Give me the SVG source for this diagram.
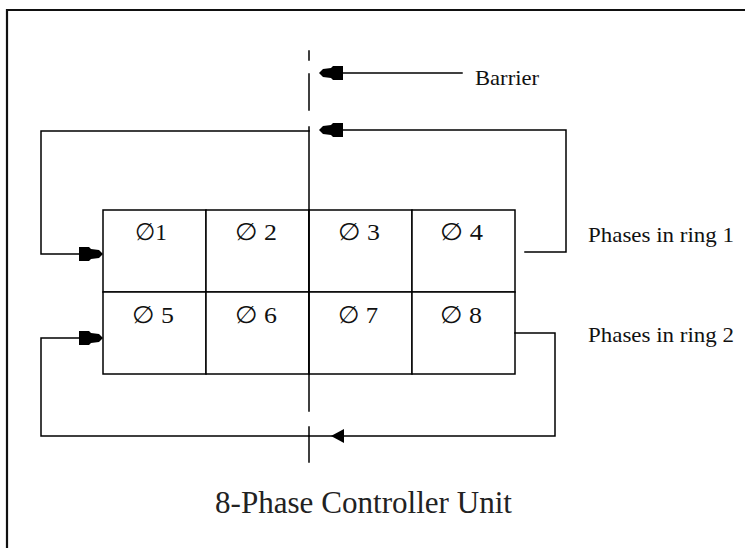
<svg xmlns="http://www.w3.org/2000/svg" width="745" height="548" viewBox="0 0 745 548">
<style>
.ln{fill:none;stroke:#000;stroke-width:1.5;stroke-linecap:square}
.cell{fill:#fff;stroke:#000;stroke-width:1.5}
.ah{fill:#000;stroke:none}
.ph{font-family:"Liberation Serif","DejaVu Serif",serif;font-size:24px;fill:#111}
.lbl{font-family:"Liberation Serif","DejaVu Serif",serif;font-size:22px;fill:#111}
.ttl{font-family:"Liberation Serif","DejaVu Serif",serif;font-size:31px;fill:#222}
</style>
<defs>
<path id="arr" d="M0,0 L4,-4 L12,-5 L14,-7 L24,-7 L24,7 L14,7 L12,5 L4,4 Z"/>
<path id="tri" d="M0,0 L13,-7 L13,7 Z"/>
</defs>
<rect x="0" y="0" width="745" height="548" fill="#fff"/>
<g id="frame">
<path d="M7,548 L7,10 L745,10" fill="none" stroke="#111" stroke-width="2.2"/>
</g>
<g id="cells">
<g id="p1"><rect class="cell" x="103" y="210" width="103" height="82"/><text class="ph" x="135" y="240" textLength="32" lengthAdjust="spacingAndGlyphs">∅1</text></g>
<g id="p2"><rect class="cell" x="206" y="210" width="103" height="82"/><text class="ph" x="235" y="240" textLength="42" lengthAdjust="spacingAndGlyphs">∅ 2</text></g>
<g id="p3"><rect class="cell" x="309" y="210" width="103" height="82"/><text class="ph" x="338" y="240" textLength="42" lengthAdjust="spacingAndGlyphs">∅ 3</text></g>
<g id="p4"><rect class="cell" x="412" y="210" width="103" height="82"/><text class="ph" x="440" y="240" textLength="43" lengthAdjust="spacingAndGlyphs">∅ 4</text></g>
<g id="p5"><rect class="cell" x="103" y="292" width="103" height="82"/><text class="ph" x="132" y="323" textLength="42" lengthAdjust="spacingAndGlyphs">∅ 5</text></g>
<g id="p6"><rect class="cell" x="206" y="292" width="103" height="82"/><text class="ph" x="235" y="323" textLength="42" lengthAdjust="spacingAndGlyphs">∅ 6</text></g>
<g id="p7"><rect class="cell" x="309" y="292" width="103" height="82"/><text class="ph" x="338" y="323" textLength="40" lengthAdjust="spacingAndGlyphs">∅ 7</text></g>
<g id="p8"><rect class="cell" x="412" y="292" width="103" height="82"/><text class="ph" x="440" y="323" textLength="42" lengthAdjust="spacingAndGlyphs">∅ 8</text></g>
</g>
<g id="barrier">
<path class="ln" d="M309,51 L309,60 M309,74 L309,110 M309,127 L309,411 M309,427 L309,462"/>
</g>
<g id="connectors">
<path class="ln" d="M343,73 L462,73"/>
<use href="#arr" class="ah" x="319" y="73"/>
<path class="ln" d="M525,252 L566,252 L566,130 L343,130"/>
<use href="#arr" class="ah" x="319" y="130"/>
<path class="ln" d="M309,131 L41,131 L41,254 L85,254"/>
<use href="#arr" class="ah" transform="translate(103,254) scale(-1,1)"/>
<path class="ln" d="M515,333 L555,333 L555,436 L343,436 M309,436 L41,436 L41,338 L85,338"/>
<path class="ln" d="M343,436 L309,436"/>
<use href="#tri" class="ah" x="331" y="436"/>
<use href="#arr" class="ah" transform="translate(103,338) scale(-1,1)"/>
</g>
<g id="labels">
<text class="lbl" x="475" y="85" textLength="64" lengthAdjust="spacingAndGlyphs">Barrier</text>
<text class="lbl" x="588" y="242" textLength="146" lengthAdjust="spacingAndGlyphs">Phases in ring 1</text>
<text class="lbl" x="588" y="342" textLength="146" lengthAdjust="spacingAndGlyphs">Phases in ring 2</text>
<text class="ttl" x="215" y="513" textLength="297" lengthAdjust="spacingAndGlyphs">8-Phase Controller Unit</text>
</g>
</svg>
